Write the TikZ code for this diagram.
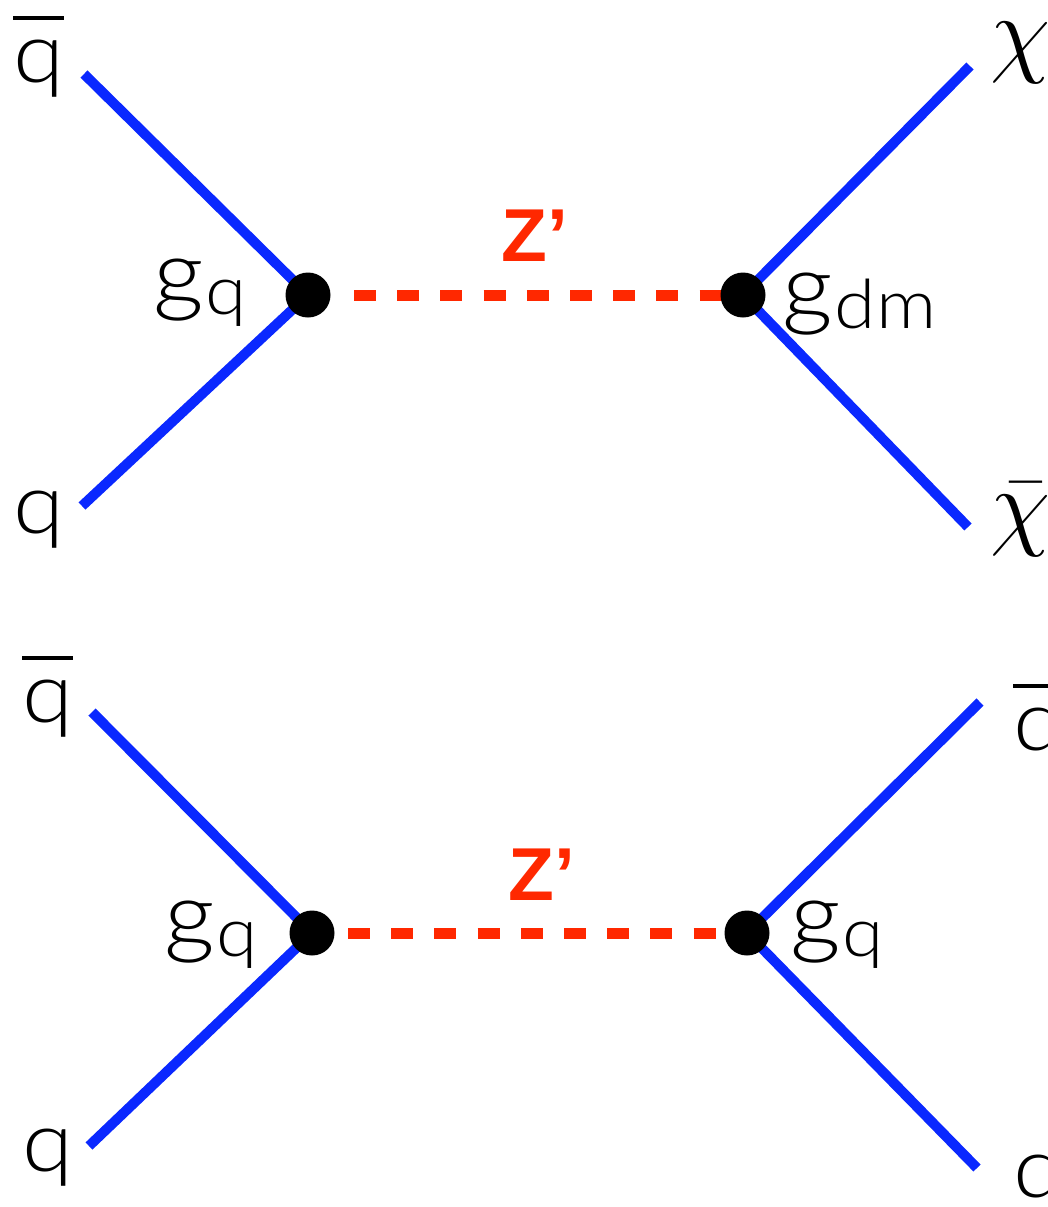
\documentclass[tikz,border=0pt]{standalone}
\usepackage{fix-cm}
\usepackage{fontspec}
\setmainfont{Lato}[UprightFont=* Light, FakeStretch=1.1]
\newfontfamily\zfont{Liberation Sans}
\definecolor{lineblue}{RGB}{10,40,255}
\definecolor{zred}{RGB}{255,40,0}
\DeclareMathSizes{49}{49}{35}{25}
\newcommand{\barred}[1]{\leavevmode\setbox0\hbox{#1}\rlap{\raisebox{31pt}{\rule{\wd0}{2pt}}}\box0}
\newcommand{\gsub}[1]{g\kern1pt\raisebox{-5pt}{\fontsize{34}{34}\selectfont #1}}
\tikzset{
  fermion/.style={draw=lineblue, line width=5pt},
  boson/.style={draw=zred, line width=5.5pt, dash pattern=on 11pt off 10.6pt},
  vertex/.style={circle, fill=black, inner sep=0pt, minimum size=22.5pt},
  lbl/.style={anchor=base west, inner sep=0pt, font=\fontsize{42}{42}\selectfont},
  glbl/.style={anchor=base west, inner sep=0pt, font=\fontsize{45}{45}\selectfont},
  chilbl/.style={anchor=base west, inner sep=0pt, font=\fontsize{49}{49}\selectfont},
  zlbl/.style={anchor=base west, inner sep=0pt, text=zred, font=\zfont\bfseries\fontsize{37.5}{37.5}\selectfont},
}
\begin{document}
\begin{tikzpicture}[x=0.5pt, y=-0.5pt]
\useasboundingbox (0,0) rectangle (1048,1207);
\clip (0,0) rectangle (1048,1207);
% ---------- top diagram ----------
\coordinate (v1) at (308,295);
\coordinate (v2) at (743,295);
\coordinate (a1) at (84,74);
\coordinate (a2) at (82,506);
\coordinate (a3) at (970,66);
\coordinate (a4) at (968,527);
\draw[fermion] (a1) -- (v1);
\draw[fermion] (a2) -- (v1);
\draw[fermion] (a3) -- (v2);
\draw[fermion] (a4) -- (v2);
\draw[boson, shorten <=23pt] (v1) -- (v2);
\node[vertex] (d1) at (v1) {};
\node[vertex] (d2) at (v2) {};
\node[lbl] (tqbar) at (13,82) {\barred{q}};
\node[lbl] (tq) at (13,533) {q};
\node[chilbl] (tchi) at (990,64) {$\chi$};
\node[chilbl] (tchibar) at (990,537) {$\bar{\chi}$};
\node[glbl] (tgq) at (153,304) {\gsub{q}};
\node[glbl] (tgdm) at (782,318) {\gsub{dm}};
\node[zlbl] (tz) at (501,261) {Z’};
% ---------- bottom diagram ----------
\coordinate (v3) at (312,933);
\coordinate (v4) at (747,933);
\coordinate (b1) at (92,712);
\coordinate (b2) at (89,1146);
\coordinate (b3) at (980,702);
\coordinate (b4) at (977,1168);
\draw[fermion] (b1) -- (v3);
\draw[fermion] (b2) -- (v3);
\draw[fermion] (b3) -- (v4);
\draw[fermion] (b4) -- (v4);
\draw[boson, dash phase=3.6pt] (v3) -- (v4);
\node[vertex] (d3) at (v3) {};
\node[vertex] (d4) at (v4) {};
\node[lbl] (bqbar) at (22,722) {\barred{q}};
\node[lbl] (bq) at (22,1171) {q};
\node[lbl] (bqbarr) at (1013,750) {\barred{q}};
\node[lbl] (bqr) at (1013,1197) {q};
\node[glbl] (bgq) at (164,946) {\gsub{q}};
\node[glbl] (bgqr) at (790,946) {\gsub{q}};
\node[zlbl] (bz) at (508,900) {Z’};
\end{tikzpicture}
\end{document}
